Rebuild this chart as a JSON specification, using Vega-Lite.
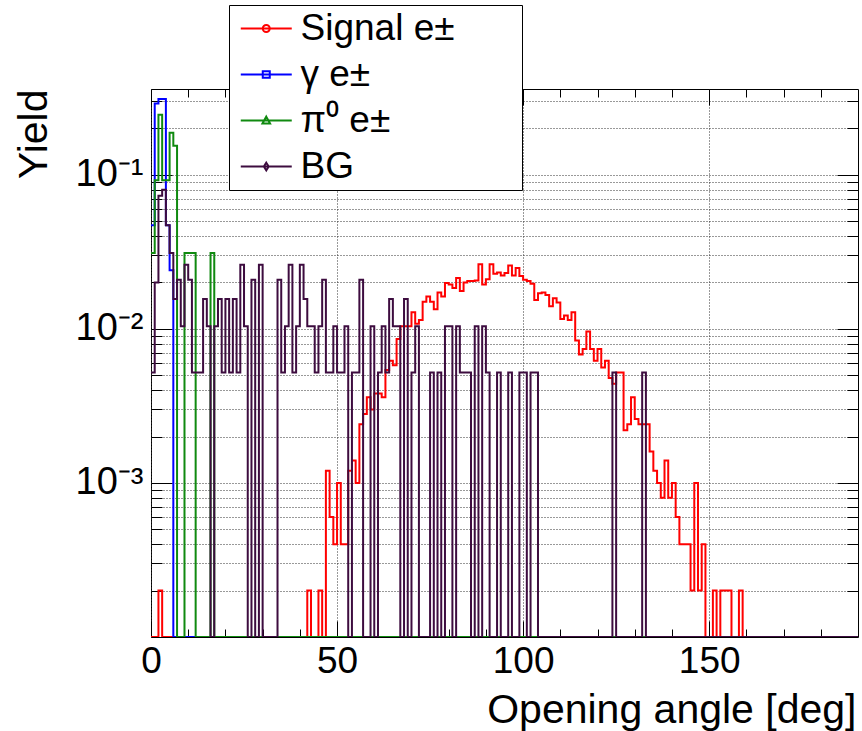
{
  "$schema": "https://vega.github.io/schema/vega-lite/v6.json",
  "width": 707,
  "height": 548,
  "autosize": {"type": "none"},
  "padding": {"left": 151, "top": 89, "right": 4, "bottom": 94},
  "background": "white",
  "config": {
    "view": {"stroke": "#000", "strokeWidth": 1},
    "font": "Liberation Sans",
    "axis": {"domain": false, "labelFont": "Liberation Sans", "titleFont": "Liberation Sans", "labelColor": "#000", "titleColor": "#000", "titleFontWeight": "normal", "tickColor": "#000", "tickWidth": 1, "labelOverlap": false},
    "legend": {
      "orient": "none", "legendX": 78, "legendY": -84, "padding": 5,
      "strokeColor": "#000", "fillColor": "#fff", "cornerRadius": 0,
      "labelFont": "Liberation Sans", "labelFontSize": 37, "labelColor": "#000", "labelLimit": 500,
      "labelOffset": 29.5, "rowPadding": 8, "symbolSize": 650, "symbolStrokeWidth": 2,
      "symbolFillColor": "transparent", "symbolOpacity": 1
    }
  },
  "data": {"values": [
    {"s":"Signal e±","x":0,"y":0},{"s":"Signal e±","x":2,"y":0.0002},{"s":"Signal e±","x":3,"y":0},{"s":"Signal e±","x":42,"y":0.0002},{"s":"Signal e±","x":43,"y":0},{"s":"Signal e±","x":45,"y":0.0002},{"s":"Signal e±","x":46,"y":0},
    {"s":"Signal e±","x":47,"y":0.0012},{"s":"Signal e±","x":48,"y":0.0006},{"s":"Signal e±","x":49,"y":0.0004},{"s":"Signal e±","x":50,"y":0.001},{"s":"Signal e±","x":51,"y":0.0004},{"s":"Signal e±","x":52,"y":0.0004},{"s":"Signal e±","x":53,"y":0.0012},{"s":"Signal e±","x":54,"y":0.0014},{"s":"Signal e±","x":55,"y":0.001},{"s":"Signal e±","x":56,"y":0.0024},{"s":"Signal e±","x":57,"y":0.0028},{"s":"Signal e±","x":58,"y":0.0036},{"s":"Signal e±","x":59,"y":0.003},{"s":"Signal e±","x":60,"y":0.0038},{"s":"Signal e±","x":61,"y":0.0038},{"s":"Signal e±","x":62,"y":0.0036},{"s":"Signal e±","x":63,"y":0.0054},{"s":"Signal e±","x":64,"y":0.0062},{"s":"Signal e±","x":65,"y":0.0058},{"s":"Signal e±","x":66,"y":0.0086},{"s":"Signal e±","x":67,"y":0.0104},{"s":"Signal e±","x":68,"y":0.0104},{"s":"Signal e±","x":69,"y":0.0104},{"s":"Signal e±","x":70,"y":0.0128},{"s":"Signal e±","x":71,"y":0.0108},{"s":"Signal e±","x":72,"y":0.0114},{"s":"Signal e±","x":73,"y":0.015},{"s":"Signal e±","x":74,"y":0.0162},{"s":"Signal e±","x":75,"y":0.015},{"s":"Signal e±","x":76,"y":0.0134},{"s":"Signal e±","x":77,"y":0.0172},{"s":"Signal e±","x":78,"y":0.0162},{"s":"Signal e±","x":79,"y":0.0198},{"s":"Signal e±","x":80,"y":0.0194},{"s":"Signal e±","x":81,"y":0.0184},{"s":"Signal e±","x":82,"y":0.0214},{"s":"Signal e±","x":83,"y":0.0176},{"s":"Signal e±","x":84,"y":0.02},{"s":"Signal e±","x":85,"y":0.0204},{"s":"Signal e±","x":86,"y":0.0204},{"s":"Signal e±","x":87,"y":0.0206},{"s":"Signal e±","x":88,"y":0.0262},{"s":"Signal e±","x":89,"y":0.0194},{"s":"Signal e±","x":90,"y":0.021},{"s":"Signal e±","x":91,"y":0.0262},{"s":"Signal e±","x":92,"y":0.0228},{"s":"Signal e±","x":93,"y":0.0232},{"s":"Signal e±","x":94,"y":0.0222},{"s":"Signal e±","x":95,"y":0.023},{"s":"Signal e±","x":96,"y":0.0258},{"s":"Signal e±","x":97,"y":0.0222},{"s":"Signal e±","x":98,"y":0.0248},{"s":"Signal e±","x":99,"y":0.022},{"s":"Signal e±","x":100,"y":0.0208},{"s":"Signal e±","x":101,"y":0.0204},{"s":"Signal e±","x":102,"y":0.0196},{"s":"Signal e±","x":103,"y":0.0154},{"s":"Signal e±","x":104,"y":0.017},{"s":"Signal e±","x":105,"y":0.0172},{"s":"Signal e±","x":106,"y":0.0166},{"s":"Signal e±","x":107,"y":0.014},{"s":"Signal e±","x":108,"y":0.0158},{"s":"Signal e±","x":109,"y":0.0148},{"s":"Signal e±","x":110,"y":0.0116},{"s":"Signal e±","x":111,"y":0.0122},{"s":"Signal e±","x":112,"y":0.0114},{"s":"Signal e±","x":113,"y":0.0128},{"s":"Signal e±","x":114,"y":0.0084},{"s":"Signal e±","x":115,"y":0.0068},{"s":"Signal e±","x":116,"y":0.0074},{"s":"Signal e±","x":117,"y":0.0096},{"s":"Signal e±","x":118,"y":0.0074},{"s":"Signal e±","x":119,"y":0.0062},{"s":"Signal e±","x":120,"y":0.0074},{"s":"Signal e±","x":121,"y":0.0056},{"s":"Signal e±","x":122,"y":0.0062},{"s":"Signal e±","x":123,"y":0.0048},{"s":"Signal e±","x":124,"y":0.0044},{"s":"Signal e±","x":125,"y":0.0052},{"s":"Signal e±","x":126,"y":0.0052},{"s":"Signal e±","x":127,"y":0.0022},{"s":"Signal e±","x":128,"y":0.0024},{"s":"Signal e±","x":129,"y":0.0036},{"s":"Signal e±","x":130,"y":0.0026},{"s":"Signal e±","x":131,"y":0.0024},{"s":"Signal e±","x":132,"y":0.0024},{"s":"Signal e±","x":133,"y":0.0024},{"s":"Signal e±","x":134,"y":0.0016},{"s":"Signal e±","x":135,"y":0.0012},{"s":"Signal e±","x":136,"y":0.001},{"s":"Signal e±","x":137,"y":0.0008},{"s":"Signal e±","x":138,"y":0.0014},{"s":"Signal e±","x":139,"y":0.0008},{"s":"Signal e±","x":140,"y":0.001},{"s":"Signal e±","x":141,"y":0.0006},{"s":"Signal e±","x":142,"y":0.0004},{"s":"Signal e±","x":143,"y":0.0004},{"s":"Signal e±","x":144,"y":0.0004},{"s":"Signal e±","x":145,"y":0.0002},{"s":"Signal e±","x":146,"y":0.001},{"s":"Signal e±","x":147,"y":0.0002},{"s":"Signal e±","x":148,"y":0.0004},{"s":"Signal e±","x":149,"y":0},{"s":"Signal e±","x":151,"y":0.0002},{"s":"Signal e±","x":152,"y":0},{"s":"Signal e±","x":153,"y":0.0002},{"s":"Signal e±","x":154,"y":0.0002},{"s":"Signal e±","x":155,"y":0.0002},{"s":"Signal e±","x":156,"y":0},{"s":"Signal e±","x":158,"y":0.0002},{"s":"Signal e±","x":159,"y":0},{"s":"Signal e±","x":190,"y":0},
    {"s":"γ e±","x":0,"y":0.047},{"s":"γ e±","x":1,"y":0.29},{"s":"γ e±","x":2,"y":0.31},{"s":"γ e±","x":3,"y":0.31},{"s":"γ e±","x":4,"y":0.047},{"s":"γ e±","x":5,"y":0.024},{"s":"γ e±","x":6,"y":0},{"s":"γ e±","x":190,"y":0},
    {"s":"π⁰ e±","x":0,"y":0.031},{"s":"π⁰ e±","x":1,"y":0.092},{"s":"π⁰ e±","x":2,"y":0.245},{"s":"π⁰ e±","x":3,"y":0.092},{"s":"π⁰ e±","x":4,"y":0.092},{"s":"π⁰ e±","x":5,"y":0.187},{"s":"π⁰ e±","x":6,"y":0.154},{"s":"π⁰ e±","x":7,"y":0},{"s":"π⁰ e±","x":9,"y":0.031},{"s":"π⁰ e±","x":10,"y":0.031},{"s":"π⁰ e±","x":11,"y":0.031},{"s":"π⁰ e±","x":12,"y":0},{"s":"π⁰ e±","x":16,"y":0.031},{"s":"π⁰ e±","x":17,"y":0},{"s":"π⁰ e±","x":190,"y":0},
    {"s":"BG","x":0,"y":0.0052},{"s":"BG","x":1,"y":0.02},{"s":"BG","x":2,"y":0.073},{"s":"BG","x":3,"y":0.08},{"s":"BG","x":4,"y":0.047},{"s":"BG","x":5,"y":0.031},{"s":"BG","x":6,"y":0.0156},{"s":"BG","x":7,"y":0.0208},{"s":"BG","x":8,"y":0.0104},{"s":"BG","x":9,"y":0.026},{"s":"BG","x":10,"y":0.0208},{"s":"BG","x":11,"y":0.0052},{"s":"BG","x":12,"y":0.0052},{"s":"BG","x":13,"y":0.0052},{"s":"BG","x":14,"y":0.0156},{"s":"BG","x":15,"y":0.0104},{"s":"BG","x":16,"y":0},{"s":"BG","x":17,"y":0.0104},{"s":"BG","x":18,"y":0.0156},{"s":"BG","x":19,"y":0.0052},{"s":"BG","x":20,"y":0.0156},{"s":"BG","x":21,"y":0.0052},{"s":"BG","x":22,"y":0.0156},{"s":"BG","x":23,"y":0.0052},{"s":"BG","x":24,"y":0.026},{"s":"BG","x":25,"y":0.0104},{"s":"BG","x":26,"y":0},{"s":"BG","x":27,"y":0.0208},{"s":"BG","x":28,"y":0},{"s":"BG","x":29,"y":0.026},{"s":"BG","x":30,"y":0},{"s":"BG","x":34,"y":0.0208},{"s":"BG","x":35,"y":0.0052},{"s":"BG","x":36,"y":0.0104},{"s":"BG","x":37,"y":0.026},{"s":"BG","x":38,"y":0.0052},{"s":"BG","x":39,"y":0.0104},{"s":"BG","x":40,"y":0.026},{"s":"BG","x":41,"y":0.0156},{"s":"BG","x":42,"y":0.0104},{"s":"BG","x":43,"y":0.0104},{"s":"BG","x":44,"y":0.0052},{"s":"BG","x":45,"y":0.0104},{"s":"BG","x":46,"y":0.0208},{"s":"BG","x":47,"y":0.0052},{"s":"BG","x":48,"y":0.0052},{"s":"BG","x":49,"y":0.0104},{"s":"BG","x":50,"y":0.0052},{"s":"BG","x":51,"y":0.0052},{"s":"BG","x":52,"y":0.0104},{"s":"BG","x":53,"y":0},{"s":"BG","x":54,"y":0.0052},{"s":"BG","x":55,"y":0.0052},{"s":"BG","x":56,"y":0.0208},{"s":"BG","x":57,"y":0},{"s":"BG","x":59,"y":0.0104},{"s":"BG","x":60,"y":0},{"s":"BG","x":61,"y":0.0052},{"s":"BG","x":62,"y":0.0104},{"s":"BG","x":63,"y":0.0052},{"s":"BG","x":64,"y":0.0156},{"s":"BG","x":65,"y":0.0104},{"s":"BG","x":66,"y":0.0104},{"s":"BG","x":67,"y":0},{"s":"BG","x":68,"y":0.0156},{"s":"BG","x":69,"y":0},{"s":"BG","x":70,"y":0.0052},{"s":"BG","x":71,"y":0.0104},{"s":"BG","x":72,"y":0},{"s":"BG","x":75,"y":0.0052},{"s":"BG","x":76,"y":0},{"s":"BG","x":77,"y":0.0052},{"s":"BG","x":78,"y":0},{"s":"BG","x":79,"y":0.0104},{"s":"BG","x":80,"y":0.0104},{"s":"BG","x":81,"y":0},{"s":"BG","x":82,"y":0.0104},{"s":"BG","x":83,"y":0.0052},{"s":"BG","x":84,"y":0.0052},{"s":"BG","x":85,"y":0.0052},{"s":"BG","x":86,"y":0},{"s":"BG","x":87,"y":0.0104},{"s":"BG","x":88,"y":0},{"s":"BG","x":89,"y":0.0104},{"s":"BG","x":90,"y":0.0052},{"s":"BG","x":91,"y":0},{"s":"BG","x":93,"y":0.0052},{"s":"BG","x":94,"y":0},{"s":"BG","x":96,"y":0.0052},{"s":"BG","x":97,"y":0},{"s":"BG","x":99,"y":0.0052},{"s":"BG","x":100,"y":0.0052},{"s":"BG","x":101,"y":0},{"s":"BG","x":102,"y":0.0052},{"s":"BG","x":103,"y":0.0052},{"s":"BG","x":104,"y":0},{"s":"BG","x":124,"y":0.0052},{"s":"BG","x":125,"y":0},{"s":"BG","x":132,"y":0.0052},{"s":"BG","x":133,"y":0},{"s":"BG","x":190,"y":0}
  ]},
  "layer": [
    {
      "mark": {"type": "line", "interpolate": "step-after", "strokeWidth": 2, "invalid": "show", "clip": true},
      "encoding": {
        "x": {"field": "x", "type": "quantitative", "scale": {"domain": [0, 190], "nice": false, "zero": false},
          "axis": {"orient": "bottom", "values": [0, 50, 100, 150], "ticks": false, "grid": true, "gridColor": "#333", "gridDash": [1, 2], "gridWidth": 1,
            "labelFontSize": 37, "labelPadding": 6, "labelFlush": false, "format": "d",
            "title": "Opening angle [deg]", "titleFontSize": 41, "titleAnchor": "end", "titleAlign": "right", "titleBaseline": "alphabetic", "titleX": 705, "titleY": 85}},
        "y": {"field": "y", "type": "quantitative", "scale": {"type": "log", "domain": [0.0001, 0.36], "nice": false, "clamp": true},
          "axis": {"orient": "left", "values": [0.0002,0.0003,0.0004,0.0005,0.0006,0.0007,0.0008,0.0009,0.001,0.002,0.003,0.004,0.005,0.006,0.007,0.008,0.009,0.01,0.02,0.03,0.04,0.05,0.06,0.07,0.08,0.09,0.1,0.2,0.3],
            "ticks": false, "grid": true, "gridColor": "#333", "gridDash": [1, 2], "gridWidth": 1,
            "labelExpr": "datum.value === 0.1 ? '10⁻¹' : datum.value === 0.01 ? '10⁻²' : datum.value === 0.001 ? '10⁻³' : ''",
            "labelFontSize": 38, "labelPadding": 8, "labelBaseline": "middle",
            "title": "Yield", "titleFontSize": 41, "titleAngle": 270, "titleAnchor": "end", "titleAlign": "right", "titleBaseline": "alphabetic", "titleX": -105, "titleY": 0}},
        "color": {"field": "s", "type": "nominal",
          "scale": {"domain": ["Signal e±", "γ e±", "π⁰ e±", "BG"], "range": ["#ff0000", "#0000ff", "#108a10", "#3d0c3f"]},
          "legend": {"title": null, "labelExpr": "datum.label + '\u00a0\u00a0\u00a0\u00a0\u00a0\u00a0\u200b'"}}
      }
    },
    {
      "transform": [{"filter": "datum.y < 0"}],
      "mark": {"type": "point", "filled": false, "strokeWidth": 1.5},
      "encoding": {
        "x": {"field": "x", "type": "quantitative", "axis": {"orient": "top", "offset": -548, "values": [0, 50, 100, 150], "tickSize": 16, "labels": false, "grid": false, "title": null}},
        "y": {"field": "y", "type": "quantitative", "axis": {"orient": "right", "offset": -707, "values": [0.001, 0.01, 0.1], "tickSize": 21, "labels": false, "grid": false, "title": null}},
        "color": {"field": "s", "type": "nominal", "legend": {"title": null, "labelExpr": "datum.label + '\u00a0\u00a0\u00a0\u00a0\u00a0\u00a0\u200b'"}},
        "shape": {"field": "s", "type": "nominal",
          "scale": {"domain": ["Signal e±", "γ e±", "π⁰ e±", "BG"],
            "range": ["M-0.92,0H3.08M1.355,0A0.275,0.275,0,1,1,0.805,0A0.275,0.275,0,1,1,1.355,0",
                      "M-0.92,0H3.08M0.805,-0.26H1.355V0.26H0.805Z",
                      "M-0.92,0H3.08M1.08,-0.3L1.38,0.24H0.78Z",
                      "M-0.92,0H3.08M1.08,-0.3L1.27,0L1.08,0.3L0.89,0Z"]},
          "legend": {"title": null, "labelExpr": "datum.label + '\u00a0\u00a0\u00a0\u00a0\u00a0\u00a0\u200b'"}}
      }
    },
    {
      "transform": [{"filter": "datum.y < 0"}],
      "mark": {"type": "point"},
      "encoding": {
        "x": {"field": "x", "type": "quantitative", "axis": {"orient": "top", "offset": -548, "values": [10,20,30,40,60,70,80,90,110,120,130,140,160,170,180], "tickSize": 8, "labels": false, "grid": false, "title": null}},
        "y": {"field": "y", "type": "quantitative", "axis": {"orient": "right", "offset": -707, "values": [0.0002,0.0003,0.0004,0.0005,0.0006,0.0007,0.0008,0.0009,0.002,0.003,0.004,0.005,0.006,0.007,0.008,0.009,0.02,0.03,0.04,0.05,0.06,0.07,0.08,0.09,0.2,0.3], "tickSize": 11, "labels": false, "grid": false, "title": null}}
      }
    },
    {
      "transform": [{"filter": "datum.y < 0"}],
      "mark": {"type": "point"},
      "encoding": {
        "x": {"field": "x", "type": "quantitative", "axis": {"orient": "bottom", "offset": -548, "values": [0, 50, 100, 150], "tickSize": 16, "labels": false, "grid": false, "title": null}},
        "y": {"field": "y", "type": "quantitative", "axis": {"orient": "left", "offset": -707, "values": [0.001, 0.01, 0.1], "tickSize": 21, "labels": false, "grid": false, "title": null}}
      }
    },
    {
      "transform": [{"filter": "datum.y < 0"}],
      "mark": {"type": "point"},
      "encoding": {
        "x": {"field": "x", "type": "quantitative", "axis": {"orient": "bottom", "offset": -548, "values": [10,20,30,40,60,70,80,90,110,120,130,140,160,170,180], "tickSize": 8, "labels": false, "grid": false, "title": null}},
        "y": {"field": "y", "type": "quantitative", "axis": {"orient": "left", "offset": -707, "values": [0.0002,0.0003,0.0004,0.0005,0.0006,0.0007,0.0008,0.0009,0.002,0.003,0.004,0.005,0.006,0.007,0.008,0.009,0.02,0.03,0.04,0.05,0.06,0.07,0.08,0.09,0.2,0.3], "tickSize": 11, "labels": false, "grid": false, "title": null}}
      }
    }
  ],
  "resolve": {"axis": {"x": "independent", "y": "independent"}}
}
